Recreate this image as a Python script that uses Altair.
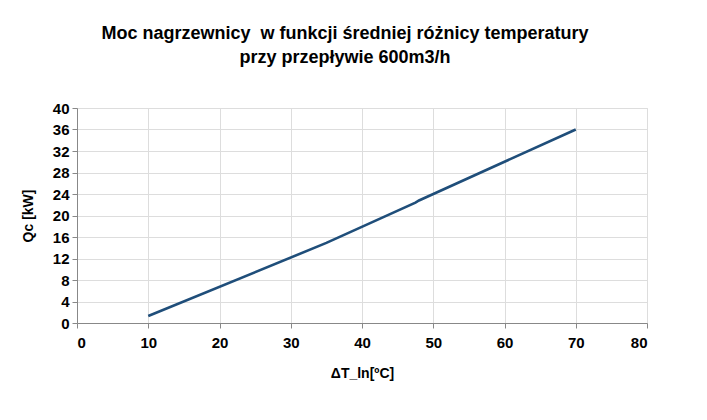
import altair as alt
import pandas as pd

# Heater power vs. mean logarithmic temperature difference
delta_t = [10, 35, 47.5, 48, 70]
power_kw = [1.3, 14.9, 22.4, 22.8, 36.0]

df = pd.DataFrame({"dt": delta_t, "q": power_kw})

FONT = "Liberation Sans"
GRID = "#b3b3b3"

line = alt.Chart(df).mark_line(color="#1f4e7a", strokeWidth=2.6).encode(
    x=alt.X(
        "dt:Q",
        scale=alt.Scale(domain=[0, 80], nice=False),
        axis=alt.Axis(
            values=list(range(0, 81, 10)),
            title="ΔT_ln[ºC]",
            titleFontSize=14,
            titleFontWeight="bold",
            titlePadding=16,
            labelFontSize=15,
            labelFontWeight="bold",
            labelPadding=7,
            tickSize=5,
        ),
    ),
    y=alt.Y(
        "q:Q",
        scale=alt.Scale(domain=[0, 40], nice=False),
        axis=alt.Axis(
            values=list(range(0, 41, 4)),
            title="Qc [kW]",
            titleFontSize=14,
            titleFontWeight="bold",
            titlePadding=17,
            labelFontSize=15,
            labelFontWeight="bold",
            labelPadding=3,
            tickSize=5,
        ),
    ),
)

chart = (
    line.properties(
        width=570,
        height=215,
        autosize=alt.AutoSizeParams(type="none"),
        padding={"left": 77, "top": 108, "right": 60, "bottom": 97},
        title=alt.TitleParams(
            text=[
                "Moc nagrzewnicy \u00a0w funkcji średniej różnicy temperatury",
                "przy przepływie 600m3/h",
            ],
            font=FONT,
            fontSize=18,
            fontWeight="bold",
            color="#000000",
            anchor="middle",
            dx=-17,
            offset=34,
            lineHeight=24,
        ),
    )
    .configure_axis(
        labelFont=FONT,
        titleFont=FONT,
        labelColor="#000000",
        titleColor="#000000",
        gridColor=GRID,
        gridWidth=1,
        gridOpacity=1,
        domainColor=GRID,
        tickColor=GRID,
    )
    .configure_view(stroke=None)
    .configure(background="#ffffff")
)

chart.save("out.html", embed_options={"renderer": "svg", "actions": False})
